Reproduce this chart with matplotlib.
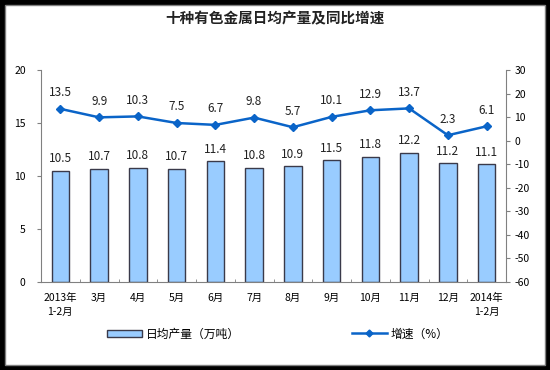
import matplotlib
matplotlib.use("Agg")
import matplotlib.pyplot as plt
from matplotlib.patches import Rectangle, Patch
from matplotlib.lines import Line2D
import numpy as np

plt.rcParams['font.family'] = ['Noto Sans CJK SC', 'DejaVu Sans']

categories = ["2013年\n1-2月", "3月", "4月", "5月", "6月", "7月", "8月", "9月",
              "10月", "11月", "12月", "2014年\n1-2月"]
output = [10.5, 10.7, 10.8, 10.7, 11.4, 10.8, 10.9, 11.5, 11.8, 12.2, 11.2, 11.1]
growth = [13.5, 9.9, 10.3, 7.5, 6.7, 9.8, 5.7, 10.1, 12.9, 13.7, 2.3, 6.1]
left_ticks = [0, 5, 10, 15, 20]
right_ticks = [-60, -50, -40, -30, -20, -10, 0, 10, 20, 30]
title = "十种有色金属日均产量及同比增速"
bar_label = "日均产量（万吨）"
line_label = "增速（%）"

W, H = 550, 370
fig = plt.figure(figsize=(W / 100, H / 100), dpi=100)
fig.patch.set_facecolor("black")
fig.add_artist(Rectangle((5 / W, 5 / H), 540 / W, 360 / H, transform=fig.transFigure,
                         facecolor="white", edgecolor="#808080", linewidth=1.0, zorder=0))

ax = fig.add_axes([41 / W, 1 - 282 / H, 465 / W, 212 / H])
ax.set_facecolor("none")
x = np.arange(len(categories))
bar_color = "#99CCFF"
line_color = "#0A64C8"
edge = "#3A3A4A"

ax.bar(x, output, width=0.45, color=bar_color, edgecolor=edge, linewidth=1.0, zorder=2)
ax.set_xlim(-0.5, len(categories) - 0.5)
ax.set_ylim(0, 20)
ax.set_yticks(left_ticks)
ax.set_yticklabels([str(t) for t in left_ticks], fontsize=7.5)
ax.set_xticks(x)
ax.set_xticklabels(categories, fontsize=7.5, linespacing=1.45)
ax.set_xticks(np.arange(len(categories) + 1) - 0.5, minor=True)
ax.tick_params(axis='x', which='major', length=0, pad=8)
ax.tick_params(axis='x', which='minor', length=2, direction='in', color="#808080")
ax.tick_params(axis='y', length=3, color="#808080", pad=8)
for s in ["top", "right"]:
    ax.spines[s].set_visible(False)
for s in ["left", "bottom"]:
    ax.spines[s].set_color("#808080")

for xi, v in zip(x, output):
    ax.annotate(f"{v:.1f}", (xi, v), xytext=(0, 4), textcoords="offset points",
                ha="center", va="bottom", fontsize=8.5, color="#222222", zorder=5)

ax2 = ax.twinx()
ax2.set_ylim(-60, 30)
ax2.set_yticks(right_ticks)
ax2.set_yticklabels([str(t) for t in right_ticks], fontsize=7.5)
ax2.tick_params(axis='y', length=3, color="#808080", pad=3)
for s in ["top", "left", "bottom"]:
    ax2.spines[s].set_visible(False)
ax2.spines["right"].set_color("#808080")
ax2.plot(x, growth, color=line_color, linewidth=1.8, marker="D", markersize=4,
         zorder=4)
for xi, v in zip(x, growth):
    ax2.annotate(f"{v:.1f}", (xi, v), xytext=(0, 7), textcoords="offset points",
                 ha="center", va="bottom", fontsize=8.5, color="#222222", zorder=5)

fig.text(275 / W, 1 - 18 / H, title, ha="center", va="center", fontsize=10.5,
         fontweight="bold", color="#222222")

h1 = Patch(facecolor=bar_color, edgecolor=edge, linewidth=1.0)
h2 = Line2D([0], [0], color=line_color, linewidth=1.8, marker="D", markersize=3.5)
fig.legend([h1], [bar_label], loc="center left", bbox_to_anchor=(96 / W, 1 - 334 / H),
           frameon=False, fontsize=8.5, handlelength=3.0, handleheight=0.5,
           handletextpad=0.3)
fig.legend([h2], [line_label], loc="center left", bbox_to_anchor=(341 / W, 1 - 334 / H),
           frameon=False, fontsize=8.5, handlelength=3.0, handletextpad=0.3)

fig.savefig("out.png", dpi=100, facecolor=fig.get_facecolor())
